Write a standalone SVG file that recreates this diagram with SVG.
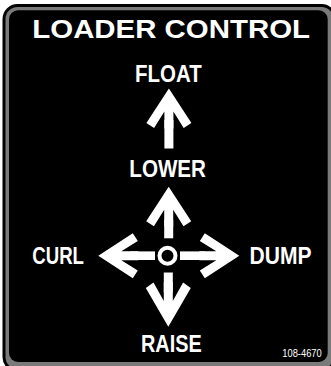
<svg xmlns="http://www.w3.org/2000/svg" width="331" height="366" viewBox="0 0 331 366">
<style>
.lbl{font-family:"Liberation Sans",Arial,sans-serif;font-weight:bold;fill:#fff}
.w{fill:#fff}
</style>
<defs>
<path id="head" d="M0,0 L22.5,34.5 L14.8,39.5 L4.5,23 L4.5,40 L-4.5,40 L-4.5,23 L-14.8,39.5 L-22.5,34.5 Z"/>
</defs>
<rect width="331" height="366" fill="#fff"/>
<g id="frame">
<rect x="2.5" y="4" width="334" height="368" rx="15" fill="#000"/>
<rect x="5.5" y="7" width="328" height="362" rx="12" fill="#7a7a7a"/>
<rect x="9" y="10.3" width="318.7" height="351.7" rx="9" fill="#000"/>
</g>
<g id="title"><text class="lbl" x="32.3" y="37.8" font-size="25.5" textLength="277.7" lengthAdjust="spacingAndGlyphs">LOADER CONTROL</text></g>
<g id="float"><text class="lbl" x="135" y="82" font-size="23.5" textLength="66.7" lengthAdjust="spacingAndGlyphs">FLOAT</text></g>
<g id="lower"><text class="lbl" x="129.3" y="177" font-size="23.5" textLength="76.7" lengthAdjust="spacingAndGlyphs">LOWER</text></g>
<g id="curl"><text class="lbl" x="32.3" y="263.6" font-size="23.5" textLength="51.7" lengthAdjust="spacingAndGlyphs">CURL</text></g>
<g id="dump"><text class="lbl" x="249.5" y="263.6" font-size="23.5" textLength="62" lengthAdjust="spacingAndGlyphs">DUMP</text></g>
<g id="raise"><text class="lbl" x="141" y="352" font-size="23.5" textLength="60.7" lengthAdjust="spacingAndGlyphs">RAISE</text></g>
<g id="partno"><text x="282.3" y="356.7" font-family="Liberation Sans,Arial,sans-serif" font-size="10" fill="#fff" textLength="39.4" lengthAdjust="spacingAndGlyphs">108-4670</text></g>
<g id="center"><circle cx="167.5" cy="255.7" r="8" fill="none" stroke="#fff" stroke-width="4"/></g>
<g id="connectors">
<g id="arrow-float">
<use href="#head" class="w" transform="translate(168.9,88.5)"/>
<rect class="w" x="164.4" y="120" width="9" height="28.5"/>
</g>
<g id="arrow-lower">
<use href="#head" class="w" transform="translate(168.7,186.7)"/>
<rect class="w" x="164.2" y="220" width="9" height="18.3"/>
</g>
<g id="arrow-curl">
<use href="#head" class="w" transform="translate(98.3,255.7) rotate(-90)"/>
<rect class="w" x="130" y="251.4" width="25" height="8.6"/>
</g>
<g id="arrow-dump">
<use href="#head" class="w" transform="translate(239.3,255.7) rotate(90)"/>
<rect class="w" x="180" y="251.4" width="25" height="8.6"/>
</g>
<g id="arrow-raise">
<use href="#head" class="w" transform="translate(168.3,326.7) rotate(180) scale(1,1.12)"/>
<rect class="w" x="163.8" y="272.5" width="9" height="20"/>
</g>
</g>
</svg>
